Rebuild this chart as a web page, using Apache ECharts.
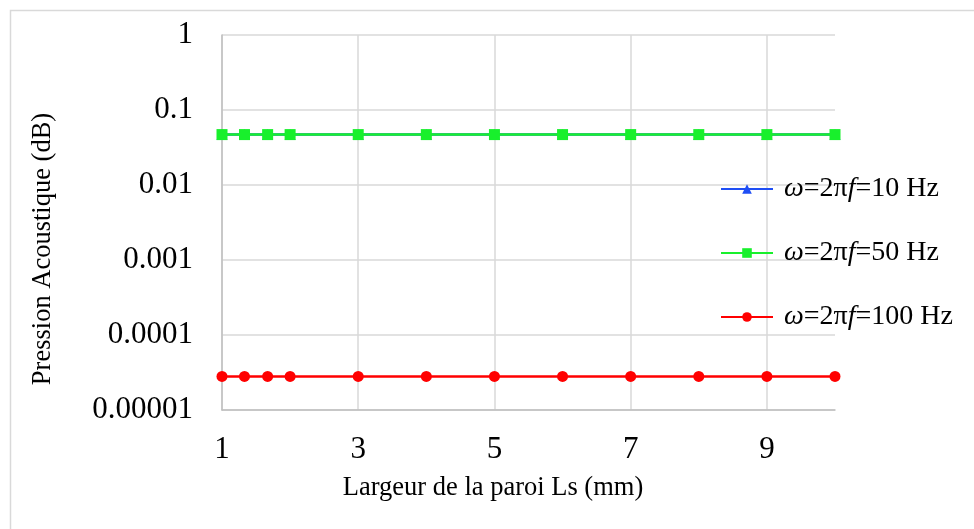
<!DOCTYPE html>
<html>
<head>
<meta charset="utf-8">
<script src="https://cdn.jsdelivr.net/npm/echarts@6/dist/echarts.min.js"></script>
<style>
  html, body { margin: 0; padding: 0; background: #ffffff; }
  #chart { width: 974px; height: 529px; }
</style>
</head>
<body>
<div id="chart"></div>
<script>
// Wall width Ls (mm)
const widths = [1, 1.33, 1.67, 2, 3, 4, 5, 6, 7, 8, 9, 10];
// Acoustic pressure for each angular frequency
const p10Hz  = [0.047, 0.047, 0.047, 0.047, 0.047, 0.047, 0.047, 0.047, 0.047, 0.047, 0.047, 0.047];
const p50Hz  = [0.047, 0.047, 0.047, 0.047, 0.047, 0.047, 0.047, 0.047, 0.047, 0.047, 0.047, 0.047];
const p100Hz = [2.8e-5, 2.8e-5, 2.8e-5, 2.8e-5, 2.8e-5, 2.8e-5, 2.8e-5, 2.8e-5, 2.8e-5, 2.8e-5, 2.8e-5, 2.8e-5];
const seriesNames = ['ω=2πf=10 Hz', 'ω=2πf=50 Hz', 'ω=2πf=100 Hz'];
const xTicks = [1, 3, 5, 7, 9];
const xTitle = 'Largeur de la paroi Ls (mm)';
const yTitle = 'Pression Acoustique (dB)';

const serif = 'Liberation Serif, Times New Roman, serif';
const pairs = ys => widths.map((x, i) => [x, ys[i]]);

function logLabel(v) {
  const exp = Math.round(Math.log10(v));
  return exp >= 0 ? String(Math.round(v)) : v.toFixed(-exp);
}

const chart = echarts.init(document.getElementById('chart'), null, { renderer: 'canvas' });

chart.setOption({
  animation: false,
  backgroundColor: '#ffffff',
  grid: { left: 222, right: 139, top: 35, bottom: 119, containLabel: false },
  xAxis: {
    type: 'value',
    min: 1,
    max: 10,
    axisLine: { show: true, lineStyle: { color: '#bfbfbf', width: 1.5 } },
    axisTick: { show: false, customValues: xTicks },
    axisLabel: {
      customValues: xTicks,
      margin: 24,
      color: '#000000',
      fontFamily: serif,
      fontSize: 31
    },
    splitLine: { show: true, lineStyle: { color: '#d9d9d9', width: 1.5 } }
  },
  yAxis: {
    type: 'log',
    logBase: 10,
    min: 0.00001,
    max: 1,
    splitNumber: 5,
    axisLine: { show: true, lineStyle: { color: '#bfbfbf', width: 1.5 } },
    axisTick: { show: false },
    axisLabel: {
      margin: 29,
      color: '#000000',
      fontFamily: serif,
      fontSize: 31,
      padding: [4, 0, 0, 0],
      formatter: logLabel
    },
    splitLine: { show: true, lineStyle: { color: '#d9d9d9', width: 1.5 } }
  },
  legend: {
    orient: 'vertical',
    left: 720,
    top: 175,
    padding: 0,
    itemWidth: 52,
    itemHeight: 12,
    itemGap: 36,
    data: seriesNames,
    formatter: name => name.replace('ω', '{i|ω}').replace('f=', '{i|f}='),
    textStyle: {
      color: '#000000',
      fontFamily: serif,
      fontSize: 28,
      padding: [0, 0, 0, 6],
      rich: {
        i: { fontStyle: 'italic', fontFamily: serif, fontSize: 28, color: '#000000' }
      }
    }
  },
  graphic: [
    {
      type: 'rect',
      silent: true,
      z: -10,
      shape: { x: 10.5, y: 10.5, width: 1000, height: 600 },
      style: { fill: 'none', stroke: '#d9d9d9', lineWidth: 1.5 }
    },
    {
      type: 'text',
      x: 43,
      y: 249,
      rotation: Math.PI / 2,
      style: {
        text: yTitle,
        fontFamily: serif,
        fontSize: 26.5,
        fill: '#000000',
        align: 'center',
        verticalAlign: 'middle'
      }
    },
    {
      type: 'text',
      x: 493,
      y: 488,
      style: {
        text: xTitle,
        fontFamily: serif,
        fontSize: 26.5,
        fill: '#000000',
        align: 'center',
        verticalAlign: 'middle'
      }
    }
  ],
  series: [
    {
      name: seriesNames[0],
      type: 'line',
      data: pairs(p10Hz),
      symbol: 'triangle',
      symbolSize: 11,
      color: '#1f4ef5',
      lineStyle: { width: 2.5 },
      z: 2
    },
    {
      name: seriesNames[1],
      type: 'line',
      data: pairs(p50Hz),
      symbol: 'rect',
      symbolSize: 11,
      color: '#18f02c',
      lineStyle: { width: 2.5 },
      z: 3
    },
    {
      name: seriesNames[2],
      type: 'line',
      data: pairs(p100Hz),
      symbol: 'circle',
      symbolSize: 11,
      color: '#ff0000',
      lineStyle: { width: 2.5 },
      z: 4
    }
  ]
});
</script>
</body>
</html>
